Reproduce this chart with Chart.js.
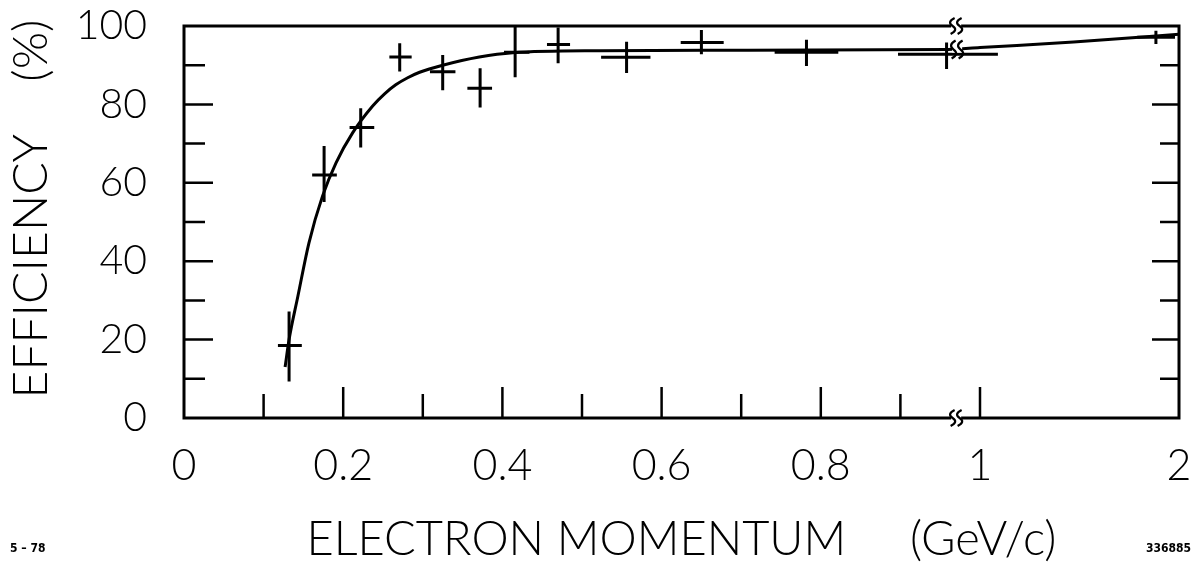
<!DOCTYPE html>
<html lang="en">

<head>
    <meta charset="UTF-8">
    <title>Electron efficiency</title>
    <script src="https://cdn.jsdelivr.net/npm/chart.js"></script>
    <style>
        body { margin: 0; background: #fff; }
        .janela { width: 1201px; height: 563px; }
    </style>
</head>

<body>
    <div class="janela">
        <canvas id="grafico-eficiencia" width="1201" height="563"></canvas>
    </div>
</body>

<script>
    // measured points (momentum in GeV/c, efficiency in %)
    const momentum   = [0.132, 0.176, 0.222, 0.271, 0.325, 0.372, 0.416, 0.470, 0.556, 0.650, 0.782, 0.958, 1.884];
    const efficiency = [18.5, 62.0, 74.1, 92.1, 88.3, 84.1, 93.3, 95.3, 92.0, 95.8, 93.3, 92.8, 97.1];
    const effLow     = [9.3, 55.1, 69.0, 88.4, 83.6, 79.2, 86.9, 90.5, 88.0, 92.8, 89.8, 89.0, 95.4];
    const effHigh    = [27.2, 69.4, 79.0, 95.6, 92.6, 89.2, 100.0, 99.6, 96.0, 99.0, 96.5, 95.8, 98.8];
    const momLow     = [0.118, 0.161, 0.208, 0.258, 0.309, 0.356, 0.402, 0.456, 0.524, 0.624, 0.742, 0.897, 1.79];
    const momHigh    = [0.148, 0.192, 0.239, 0.286, 0.341, 0.387, 0.434, 0.485, 0.586, 0.678, 0.822, 1.09, 1.98];

    // hand drawn curve through the points
    const fitMomentum   = [0.127, 0.132, 0.143, 0.157, 0.174, 0.191, 0.212, 0.237, 0.252, 0.266, 0.281, 0.296, 0.325, 0.371, 0.413, 0.522, 0.70, 0.96, 1.0, 1.47, 1.80, 2.0];
    const fitEfficiency = [13.0, 20.0, 31.0, 44.7, 56.6, 65.1, 72.8, 79.6, 82.7, 85.0, 86.8, 88.2, 90.0, 92.1, 93.2, 93.7, 93.8, 94.0, 94.5, 95.9, 97.1, 97.9];

    const xTickValues = [0, 0.2, 0.4, 0.6, 0.8, 1, 2];
    const xTickLabels = ['0', '0.2', '0.4', '0.6', '0.8', '1', '2'];
    const xMarks = [0.1, 0.2, 0.3, 0.4, 0.5, 0.6, 0.7, 0.8, 0.9, 1.0];
    const yTickValues = [0, 20, 40, 60, 80, 100];
    const yMarks = [10, 20, 30, 40, 50, 60, 70, 80, 90];
    const quebra = 0.97; // axis break

    // 1..2 GeV/c is squeezed into a quarter of a unit
    function eixoX(p) {
        return p <= 1 ? p : 1 + (p - 1) * 0.25;
    }

    Chart.defaults.font.family = 'Lato, "Open Sans", sans-serif';
    Chart.defaults.color = '#000';

    function zigue(ctx, x, y, h) {
        ctx.save();
        ctx.strokeStyle = '#fff';
        ctx.lineWidth = 6;
        ctx.beginPath();
        ctx.moveTo(x - 5, y);
        ctx.lineTo(x + 5, y);
        ctx.stroke();
        ctx.strokeStyle = '#000';
        ctx.lineWidth = 2.2;
        [-3.5, 3.5].forEach(dx => {
            ctx.beginPath();
            ctx.moveTo(x + dx + 2, y - h / 2);
            ctx.quadraticCurveTo(x + dx - 6, y - h / 4, x + dx, y);
            ctx.quadraticCurveTo(x + dx + 6, y + h / 4, x + dx - 2, y + h / 2);
            ctx.stroke();
        });
        ctx.restore();
    }

    const moldura = {
        id: 'moldura',
        afterDatasetsDraw(chart) {
            const ctx = chart.ctx;
            const x = chart.scales.x;
            const y = chart.scales.y;
            const a = chart.chartArea;

            ctx.save();
            ctx.strokeStyle = '#000';
            ctx.lineCap = 'butt';

            // error bars
            ctx.lineWidth = 3;
            momentum.forEach((p, i) => {
                const px = x.getPixelForValue(eixoX(p));
                const py = y.getPixelForValue(efficiency[i]);
                ctx.beginPath();
                ctx.moveTo(x.getPixelForValue(eixoX(momLow[i])), py);
                ctx.lineTo(x.getPixelForValue(eixoX(momHigh[i])), py);
                ctx.moveTo(px, y.getPixelForValue(effLow[i]));
                ctx.lineTo(px, y.getPixelForValue(effHigh[i]));
                ctx.stroke();
            });

            // frame
            ctx.lineWidth = 3;
            ctx.strokeRect(a.left, a.top, a.right - a.left, a.bottom - a.top);

            // inward ticks
            ctx.lineWidth = 2.5;
            yMarks.forEach(v => {
                const py = y.getPixelForValue(v);
                const len = v % 20 === 0 ? 29 : 21;
                ctx.beginPath();
                ctx.moveTo(a.left, py);
                ctx.lineTo(a.left + len, py);
                ctx.moveTo(a.right, py);
                ctx.lineTo(a.right - len + 2, py);
                ctx.stroke();
            });
            xMarks.forEach(v => {
                const px = x.getPixelForValue(v);
                const len = Math.round(v * 10) % 2 === 0 || v === 1 ? 31 : 24;
                ctx.beginPath();
                ctx.moveTo(px, a.bottom);
                ctx.lineTo(px, a.bottom - len);
                ctx.stroke();
            });

            // break marks
            const bx = x.getPixelForValue(quebra);
            zigue(ctx, bx, a.top, 16);
            zigue(ctx, bx, a.bottom, 16);
            zigue(ctx, bx + 1, y.getPixelForValue(94), 18);

            // plate numbers
            ctx.font = 'bold 12px "DejaVu Sans Condensed", "DejaVu Sans"';
            ctx.textBaseline = 'middle';
            ctx.textAlign = 'left';
            ctx.fillText('5 – 78', 10, 549);
            ctx.textAlign = 'right';
            ctx.fillText('336885', 1191, 549);
            ctx.restore();
        }
    };

    var graficoEficiencia = new Chart(document.getElementById('grafico-eficiencia'), {
        type: 'scatter',
        data: {
            datasets: [{
                label: 'curva',
                data: fitMomentum.map((p, i) => ({ x: eixoX(p), y: fitEfficiency[i] })),
                showLine: true,
                borderColor: '#000',
                borderWidth: 3,
                pointRadius: 0,
                cubicInterpolationMode: 'monotone'
            }, {
                label: 'pontos',
                data: momentum.map((p, i) => ({ x: eixoX(p), y: efficiency[i] })),
                pointRadius: 0,
                borderColor: '#000',
                backgroundColor: '#000'
            }]
        },
        options: {
            responsive: false,
            animation: false,
            events: [],
            layout: { padding: { top: 26, right: 22, left: 0, bottom: 0 } },
            plugins: {
                legend: { display: false },
                tooltip: { enabled: false }
            },
            scales: {
                x: {
                    type: 'linear',
                    min: 0,
                    max: eixoX(2),
                    grid: { display: false },
                    border: { display: false },
                    afterBuildTicks: s => { s.ticks = xTickValues.map(v => ({ value: eixoX(v) })); },
                    afterFit: s => {
                        s.height = 145;
                        s.paddingLeft = 0;
                        s.paddingRight = 0;
                    },
                    ticks: {
                        padding: 14,
                        maxRotation: 0,
                        font: { size: 43, weight: '300' },
                        callback: (v, i) => xTickLabels[i]
                    },
                    title: {
                        display: true,
                        text: 'ELECTRON MOMENTUM     (GeV/c)',
                        font: { size: 47, weight: '300', lineHeight: 1 },
                        padding: { top: 0, bottom: 0 }
                    }
                },
                y: {
                    min: 0,
                    max: 100,
                    grid: { display: false },
                    border: { display: false },
                    afterBuildTicks: s => { s.ticks = yTickValues.map(v => ({ value: v })); },
                    afterFit: s => {
                        s.width = 184;
                        s.paddingTop = 0;
                        s.paddingBottom = 0;
                    },
                    ticks: {
                        padding: 29,
                        font: { size: 41, weight: '300' }
                    },
                    title: {
                        display: true,
                        text: '  EFFICIENCY    (%)',
                        font: { size: 48, weight: '300', lineHeight: 1 },
                        padding: { top: 8, bottom: 0 }
                    }
                }
            }
        },
        plugins: [moldura]
    });
</script>

</html>
